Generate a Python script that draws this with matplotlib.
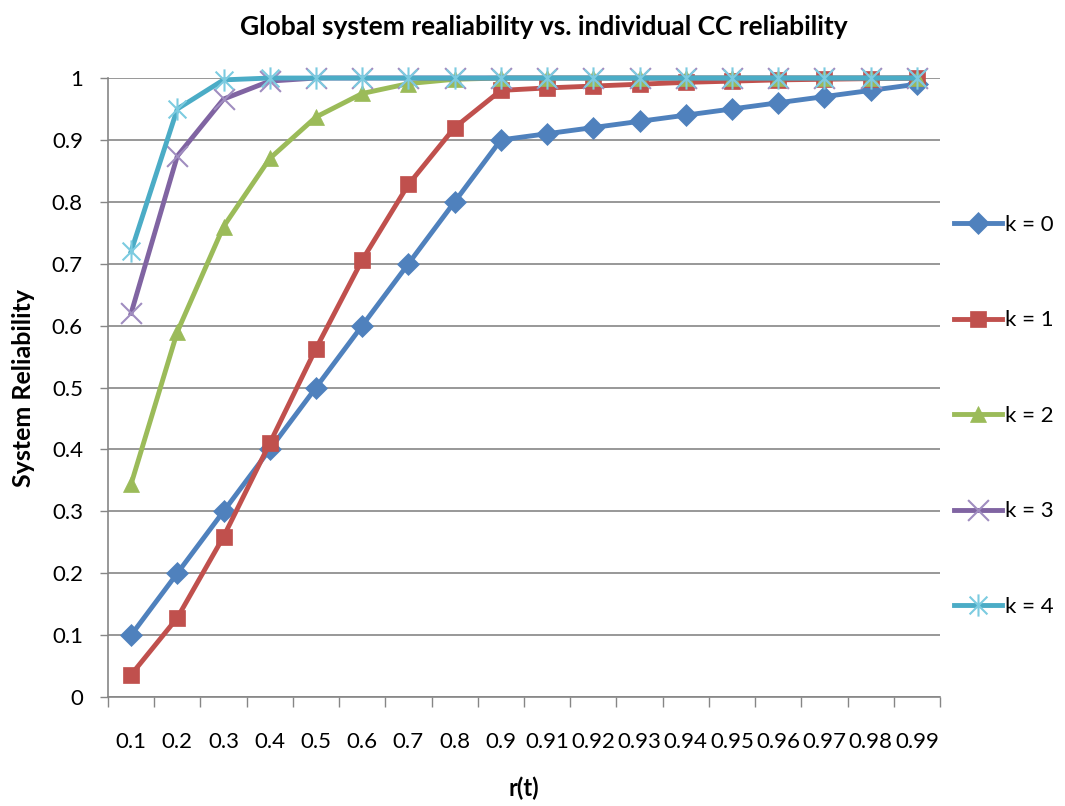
import matplotlib
matplotlib.use("Agg")
import matplotlib.pyplot as plt
from matplotlib.path import Path
import numpy as np

categories = ["0.1", "0.2", "0.3", "0.4", "0.5", "0.6", "0.7", "0.8", "0.9",
              "0.91", "0.92", "0.93", "0.94", "0.95", "0.96", "0.97", "0.98", "0.99"]
k0 = [0.10, 0.20, 0.30, 0.40, 0.50, 0.60, 0.70, 0.80, 0.90,
      0.91, 0.92, 0.93, 0.94, 0.95, 0.96, 0.97, 0.98, 0.99]
k1 = [0.036, 0.128, 0.259, 0.410, 0.563, 0.706, 0.828, 0.920, 0.980,
      0.984, 0.987, 0.990, 0.993, 0.995, 0.997, 0.998, 0.999, 1.000]
k2 = [0.344, 0.590, 0.760, 0.870, 0.937, 0.975, 0.991, 0.998, 1.000,
      1.000, 1.000, 1.000, 1.000, 1.000, 1.000, 1.000, 1.000, 1.000]
k3 = [0.620, 0.874, 0.966, 0.995, 1.000, 1.000, 1.000, 1.000, 1.000,
      1.000, 1.000, 1.000, 1.000, 1.000, 1.000, 1.000, 1.000, 1.000]
k4 = [0.720, 0.950, 0.997, 1.000, 1.000, 1.000, 1.000, 1.000, 1.000,
      1.000, 1.000, 1.000, 1.000, 1.000, 1.000, 1.000, 1.000, 1.000]
labels = ["k = 0", "k = 1", "k = 2", "k = 3", "k = 4"]
ytick_labels = ["0", "0.1", "0.2", "0.3", "0.4", "0.5", "0.6", "0.7", "0.8", "0.9", "1"]

plt.rcParams['font.family'] = ['Lato', 'DejaVu Sans']

colors = ["#4F81BD", "#C0504D", "#9BBB59", "#8064A2", "#4BACC6"]
marker_colors = ["#4F81BD", "#C0504D", "#9BBB59", "#A08DC0", "#7CCBE0"]

# asterisk marker: vertical line + X
ast = Path([(0, -1), (0, 1), (-0.8, -0.8), (0.8, 0.8), (-0.8, 0.8), (0.8, -0.8)],
           [Path.MOVETO, Path.LINETO, Path.MOVETO, Path.LINETO, Path.MOVETO, Path.LINETO])
xm = Path([(-0.8, -0.8), (0.8, 0.8), (-0.8, 0.8), (0.8, -0.8)],
          [Path.MOVETO, Path.LINETO, Path.MOVETO, Path.LINETO])

markers = ["D", "s", "^", xm, ast]
msizes = [11, 12, 12, 15, 16]

fig = plt.figure(figsize=(10.65, 8.06), dpi=100)
ax = fig.add_axes([0.1014, 0.1352, 0.7812, 0.768])

x = np.arange(len(categories))
series = [k0, k1, k2, k3, k4]
for i, s in enumerate(series):
    filled = i < 3
    ax.plot(x, s, color=colors[i], lw=3.5, marker=markers[i], ms=msizes[i],
            mfc=marker_colors[i] if filled else "none",
            mec=marker_colors[i], mew=1.5 if not filled else 0.5,
            label=labels[i], clip_on=False, zorder=3 + i)

ax.set_xlim(-0.5, len(categories) - 0.5)
ax.set_ylim(0, 1)
ax.set_yticks(np.arange(0, 1.01, 0.1))
ax.set_yticklabels(ytick_labels)
ax.yaxis.grid(True, color="#868686", lw=1.2)
ax.set_axisbelow(True)

ax.set_xticks(x)
ax.set_xticklabels(categories)
ax.set_xticks(np.arange(-0.5, len(categories)), minor=True)
ax.tick_params(axis='x', which='major', length=0, pad=25, labelsize=16)
ax.tick_params(axis='x', which='minor', length=7, color="#868686", width=1)
ax.tick_params(axis='y', length=6, color="#868686", width=1, labelsize=16, pad=12)

for sp in ["top", "right"]:
    ax.spines[sp].set_visible(False)
for sp in ["left", "bottom"]:
    ax.spines[sp].set_color("#868686")
    ax.spines[sp].set_linewidth(1.2)

fig.text(0.511, 0.966, "Global system realiability vs. individual CC reliability",
         fontsize=19, fontweight="bold", ha="center", va="center")
ax.set_ylabel("System Reliability", fontsize=18, fontweight="bold", labelpad=12)
ax.set_xlabel("r(t)", fontsize=17, fontweight="bold", labelpad=18)

fig.legend(loc="center left", bbox_to_anchor=(0.877, 0.484), frameon=False,
           fontsize=16, labelspacing=3.4, handlelength=2.16, handletextpad=0.15)

fig.savefig("out.png", dpi=100)
